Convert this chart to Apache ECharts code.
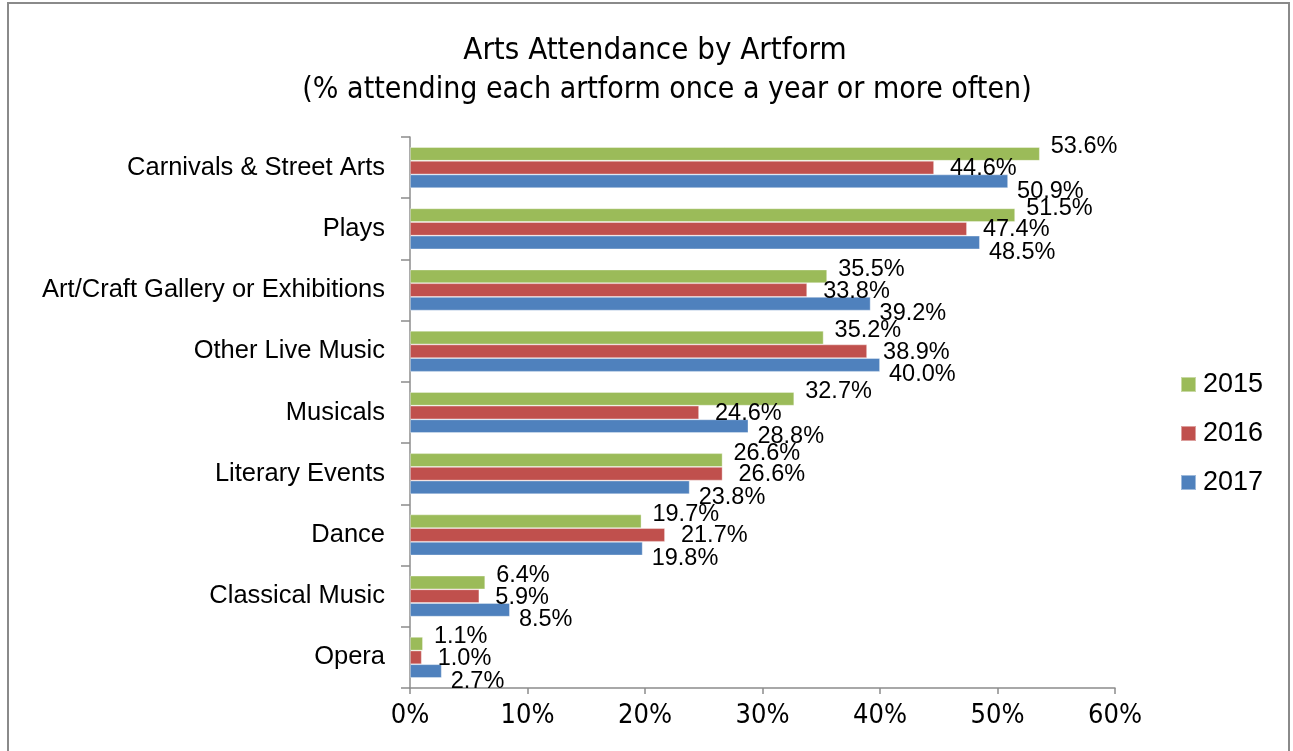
<!DOCTYPE html>
<html>
<head>
<meta charset="utf-8">
<title>Arts Attendance by Artform</title>
<script src="https://cdn.jsdelivr.net/npm/echarts@6/dist/echarts.min.js"></script>
<style>
  html, body { margin: 0; padding: 0; background: #ffffff; }
  #chart { width: 1293px; height: 751px; }
</style>
</head>
<body>
<div id="chart"></div>
<script>
// Artforms, listed top to bottom
const artforms = [
  'Carnivals & Street Arts',
  'Plays',
  'Art/Craft Gallery or Exhibitions',
  'Other Live Music',
  'Musicals',
  'Literary Events',
  'Dance',
  'Classical Music',
  'Opera'
];

// % attending each artform once a year or more often
const years = ['2015', '2016', '2017'];
const att2015 = [53.6, 51.5, 35.5, 35.2, 32.7, 26.6, 19.7, 6.4, 1.1];
const att2016 = [44.6, 47.4, 33.8, 38.9, 24.6, 26.6, 21.7, 5.9, 1.0];
const att2017 = [50.9, 48.5, 39.2, 40.0, 28.8, 23.8, 19.8, 8.5, 2.7];

// Value axis ticks (percent)
const xTicks = [0, 10, 20, 30, 40, 50, 60];

const palette = { '2015': '#9BBB59', '2016': '#C0504D', '2017': '#4F81BD' };
const seriesValues = { '2015': att2015, '2016': att2016, '2017': att2017 };
const labelNudge = { '2015': [11, -7], '2016': [16, 1], '2017': [9, 10] };

const bodyFont = "'Liberation Sans', Arial, sans-serif";
const narrowFont = "'DejaVu Sans Condensed', 'Liberation Sans Narrow', sans-serif";

const chart = echarts.init(document.getElementById('chart'), null, { renderer: 'canvas' });

const series = years.map(y => ({
  name: y,
  type: 'bar',
  data: seriesValues[y],
  barGap: '0%',
  barCategoryGap: '33%',
  itemStyle: {
    color: palette[y],
    borderColor: 'rgba(255,255,255,0.45)',
    borderWidth: 0.8
  },
  label: {
    show: true,
    position: 'right',
    distance: 0,
    offset: labelNudge[y],
    color: '#000000',
    fontFamily: bodyFont,
    fontSize: 23.5,
    formatter: p => p.value.toFixed(1) + '%'
  },
  emphasis: { disabled: true }
}));

chart.setOption({
  animation: false,
  backgroundColor: '#ffffff',
  title: [
    {
      text: 'Arts Attendance by Artform',
      left: 650,
      top: 30,
      textAlign: 'center',
      textStyle: { fontFamily: narrowFont, fontSize: 31, fontWeight: 'normal', color: '#000000' }
    },
    {
      text: '(% attending each artform once a year or more often)',
      left: 662,
      top: 70,
      textAlign: 'center',
      textStyle: { fontFamily: narrowFont, fontSize: 30, fontWeight: 'normal', color: '#000000' }
    }
  ],
  legend: {
    orient: 'vertical',
    left: 1175,
    top: 366,
    itemWidth: 15,
    itemHeight: 15,
    itemGap: 22,
    icon: 'rect',
    data: years,
    textStyle: { fontFamily: bodyFont, fontSize: 27, color: '#000000', padding: [0, 0, 0, 2] }
  },
  grid: { left: 410, right: 178, top: 137, bottom: 63, containLabel: false },
  xAxis: {
    type: 'value',
    min: xTicks[0],
    max: xTicks[xTicks.length - 1],
    interval: xTicks[1] - xTicks[0],
    axisLine: { show: true, lineStyle: { color: '#8c8c8c', width: 1.5 } },
    axisTick: { show: true, length: 6, lineStyle: { color: '#8c8c8c', width: 1.5 } },
    splitLine: { show: false },
    axisLabel: {
      margin: 14,
      fontFamily: narrowFont,
      fontSize: 27,
      color: '#000000',
      formatter: '{value}%'
    }
  },
  yAxis: {
    type: 'category',
    inverse: true,
    data: artforms,
    axisLine: { show: true, lineStyle: { color: '#8c8c8c', width: 1.5 } },
    axisTick: { show: true, length: 9, alignWithLabel: false, lineStyle: { color: '#8c8c8c', width: 1.5 } },
    splitLine: { show: false },
    axisLabel: {
      margin: 25,
      fontFamily: bodyFont,
      fontSize: 25.5,
      color: '#000000'
    }
  },
  graphic: [
    {
      type: 'rect',
      silent: true,
      shape: { x: 8, y: 3, width: 1281, height: 800 },
      style: { fill: 'none', stroke: '#8a8a8a', lineWidth: 2 }
    }
  ],
  series: series
});
</script>
</body>
</html>
